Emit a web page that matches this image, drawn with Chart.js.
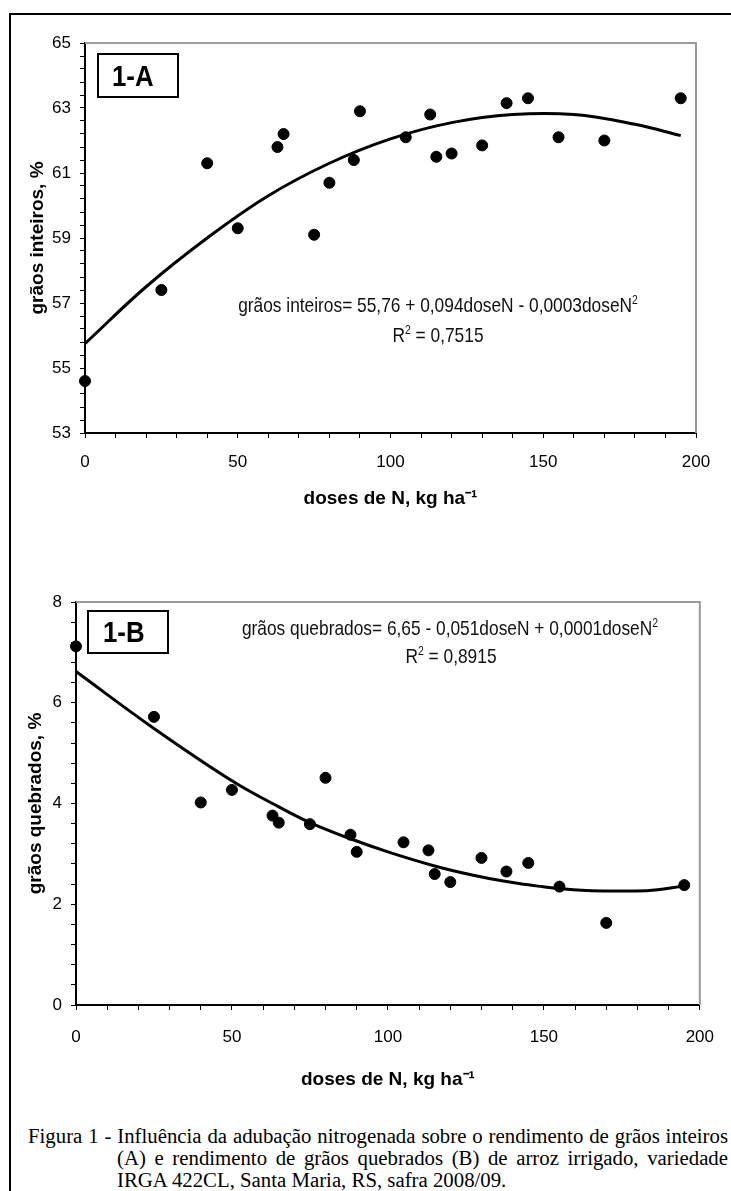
<!DOCTYPE html>
<html>
<head>
<meta charset="utf-8">
<script src="https://cdn.jsdelivr.net/npm/chart.js@4.4.1/dist/chart.umd.min.js"></script>
<style>
  body { margin: 0; width: 731px; height: 1191px; overflow: hidden; background: #fff; position: relative; }
  #frame { position: absolute; left: 9px; top: 13px; width: 760px; height: 1220px; border-left: 2px solid #000; border-top: 2px solid #000; }
  canvas { position: absolute; left: 0; }
  .note { position: absolute; transform: translate(-50%, -50%) scaleX(0.825); white-space: nowrap; font-family: 'Liberation Sans', Arial, sans-serif; font-size: 21px; color: #111; }
  .panel { position: absolute; border: 2px solid #000; box-sizing: border-box; font-family: 'Liberation Sans', Arial, sans-serif; font-weight: bold; font-size: 30px; color: #000; }
  .panel span { display: inline-block; transform: scaleX(0.86); transform-origin: 0 50%; }
  .cap { position: absolute; font-family: 'Liberation Serif', 'Times New Roman', serif; font-size: 20.8px; line-height: 22px; white-space: nowrap; color: #000; }
  .just { text-align: justify; text-align-last: justify; }
  sup { font-size: 60%; line-height: 0; }
</style>
</head>
<body>
<div id="frame"></div>

<canvas id="chartA" width="731" height="540" style="top:0"></canvas>
<canvas id="chartB" width="731" height="570" style="top:540px"></canvas>

<div class="panel" style="left:97px; top:53px; width:82px; height:45px; line-height:41px; padding-left:13px;"><span>1-A</span></div>
<div class="note" style="left:438px; top:305px;">grãos inteiros= 55,76 + 0,094doseN - 0,0003doseN<sup>2</sup></div>
<div class="note" style="left:438px; top:335px;">R<sup>2</sup> = 0,7515</div>

<div class="panel" style="left:87px; top:610px; width:82px; height:44px; line-height:40px; padding-left:14px;"><span>1-B</span></div>
<div class="note" style="left:450px; top:628px;">grãos quebrados= 6,65 - 0,051doseN + 0,0001doseN<sup>2</sup></div>
<div class="note" style="left:451px; top:656px;">R<sup>2</sup> = 0,8915</div>

<div class="cap just" style="left:28px; top:1125px; width:700px;">Figura 1 - Influência da adubação nitrogenada sobre o rendimento de grãos inteiros</div>
<div class="cap just" style="left:117px; top:1147px; width:611px;">(A) e rendimento de grãos quebrados (B) de arroz irrigado, variedade</div>
<div class="cap" style="left:117px; top:1169px;">IRGA 422CL, Santa Maria, RS, safra 2008/09.</div>

<script>
// doses de N (kg ha-1) used in the field trial
const doses = [0, 25, 40, 50, 63, 65, 75, 80, 88, 90, 105, 113, 115, 120, 130, 138, 145, 155, 170, 195];
const inteiros = [54.6, 57.4, 61.3, 59.3, 61.8, 62.2, 59.1, 60.7, 61.4, 62.9, 62.1, 62.8, 61.5, 61.6, 61.85, 63.15, 63.3, 62.1, 62.0, 63.3];
const quebrados = [7.12, 5.72, 4.02, 4.27, 3.76, 3.62, 3.59, 4.51, 3.38, 3.04, 3.23, 3.07, 2.6, 2.44, 2.92, 2.65, 2.82, 2.35, 1.63, 2.38];

// trend lines
const curveDoseA = [0, 20, 40, 60, 80, 100, 120, 140, 160, 180, 195];
const curveInteiros = [55.75, 57.5, 59.0, 60.3, 61.3, 62.05, 62.55, 62.8, 62.8, 62.5, 62.15];
const curveDoseB = [0, 25, 50, 63, 75, 88, 100, 115, 127, 137, 148, 162, 183, 195];
const curveQuebrados = [6.62, 5.49, 4.45, 4.0, 3.62, 3.3, 3.04, 2.76, 2.58, 2.46, 2.36, 2.28, 2.27, 2.36];

// tick labels
const xTickLabels = [0, 50, 100, 150, 200];
const yTickLabelsA = [53, 55, 57, 59, 61, 63, 65];
const yTickLabelsB = [0, 2, 4, 6, 8];

const tickFont = { family: "'Liberation Sans', Arial, sans-serif", size: 17 };

function onlyLabels(list) {
    return function (v) {
        const hit = list.find(t => Math.abs(t - v) < 1e-6);
        return hit === undefined ? '' : String(hit);
    };
}

function pairs(xs, ys) {
    return xs.map((x, i) => ({ x: x, y: ys[i] }));
}

// gray top / right border of the plot area
const plotFrame = {
    id: 'plotFrame',
    beforeDatasetsDraw(chart) {
        const { ctx, chartArea: a } = chart;
        ctx.save();
        ctx.strokeStyle = '#9a9a9a';
        ctx.lineWidth = 2;
        ctx.beginPath();
        ctx.moveTo(a.left, a.top);
        ctx.lineTo(a.right, a.top);
        ctx.lineTo(a.right, a.bottom);
        ctx.stroke();
        ctx.restore();
    }
};

function makeChart(id, cfg) {
    const ctx = document.getElementById(id).getContext('2d');
    return new Chart(ctx, {
        type: 'scatter',
        data: {
            datasets: [{
                label: 'observado',
                data: pairs(doses, cfg.values),
                backgroundColor: '#000',
                borderColor: '#000',
                pointRadius: 5.5,
                pointHoverRadius: 5.5,
                clip: false
            }, {
                label: 'ajuste',
                type: 'line',
                data: pairs(cfg.curveX, cfg.curveY),
                borderColor: '#000',
                borderWidth: 3,
                pointRadius: 0,
                fill: false,
                tension: 0.4,
                clip: false
            }]
        },
        options: {
            responsive: false,
            animation: false,
            layout: { padding: { top: cfg.padTop, right: cfg.padRight, left: 0, bottom: 0 } },
            plugins: { legend: { display: false }, tooltip: { enabled: false } },
            scales: {
                x: {
                    type: 'linear',
                    min: 0,
                    max: 200,
                    afterFit: (s) => { s.height = cfg.xHeight; },
                    ticks: {
                        stepSize: 10,
                        autoSkip: false,
                        maxRotation: 0,
                        padding: cfg.xTickPad,
                        color: '#000',
                        font: tickFont,
                        callback: onlyLabels(xTickLabels)
                    },
                    grid: { drawOnChartArea: false, tickLength: 5, tickColor: '#000', tickWidth: 1 },
                    border: { color: '#000', width: 2 },
                    title: {
                        display: true,
                        text: 'doses de N, kg ha⁻¹',
                        color: '#000',
                        font: { family: "'Liberation Sans', Arial, sans-serif", size: 19, weight: 'bold' },
                        padding: { top: 0, bottom: cfg.xTitlePad }
                    }
                },
                y: {
                    type: 'linear',
                    min: cfg.yMin,
                    max: cfg.yMax,
                    afterFit: (s) => { s.width = cfg.yWidth; },
                    ticks: {
                        stepSize: 0.4,
                        autoSkip: false,
                        padding: 9,
                        color: '#000',
                        font: tickFont,
                        callback: onlyLabels(cfg.yLabels)
                    },
                    grid: { drawOnChartArea: false, tickLength: 5, tickColor: '#000', tickWidth: 1 },
                    border: { color: '#000', width: 2 },
                    title: {
                        display: true,
                        text: cfg.yTitle,
                        color: '#000',
                        font: { family: "'Liberation Sans', Arial, sans-serif", size: 19, weight: 'bold' },
                        padding: { top: cfg.yTitlePad, bottom: 0 }
                    }
                }
            }
        },
        plugins: [plotFrame]
    });
}

window.onload = function () {
    makeChart('chartA', {
        values: inteiros,
        curveX: curveDoseA,
        curveY: curveInteiros,
        yMin: 53, yMax: 65,
        yLabels: yTickLabelsA,
        yTitle: 'grãos inteiros, %',
        padTop: 43, padRight: 35,
        yWidth: 85, xHeight: 107,
        xTickPad: 14, xTitlePad: 30, yTitlePad: 26
    });

    makeChart('chartB', {
        values: quebrados,
        curveX: curveDoseB,
        curveY: curveQuebrados,
        yMin: 0, yMax: 8,
        yLabels: yTickLabelsB,
        yTitle: 'grãos quebrados, %',
        padTop: 62, padRight: 23,
        yWidth: 76, xHeight: 105,
        xTickPad: 17, xTitlePad: 19, yTitlePad: 24
    });
};
</script>
</body>
</html>
